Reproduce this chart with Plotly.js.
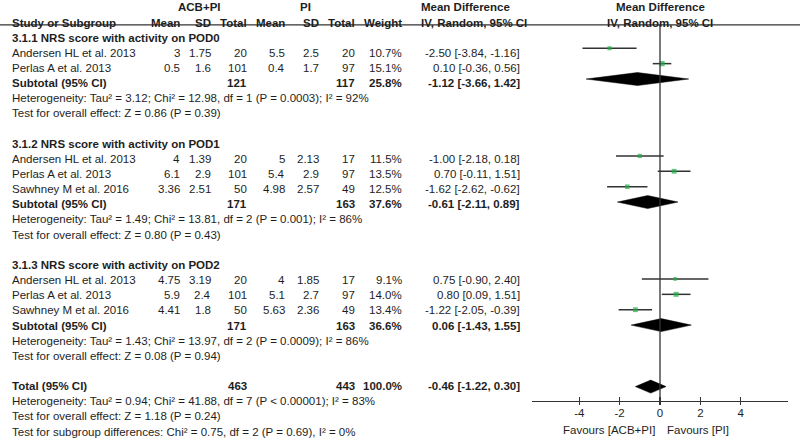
<!DOCTYPE html>
<html>
<head>
<meta charset="utf-8">
<script src="https://cdn.plot.ly/plotly-3.0.1.min.js"></script>
<style>html,body{margin:0;padding:0;background:#fff;}#chart{width:800px;height:441px;}</style>
</head>
<body>
<div id="chart"></div>
<script>
// ---------- DATA ----------
const groupTitles = ["3.1.1 NRS score with activity on POD0", "3.1.2 NRS score with activity on POD1", "3.1.3 NRS score with activity on POD2"];
const studyNames = [
  ["Andersen HL et al. 2013", "Perlas A et al. 2013"],
  ["Andersen HL et al. 2013", "Perlas A et al. 2013", "Sawhney M et al. 2016"],
  ["Andersen HL et al. 2013", "Perlas A et al. 2013", "Sawhney M et al. 2016"]
];
const acbMean = [[3, 0.5], [4, 6.1, 3.36], [4.75, 5.9, 4.41]];
const acbSD   = [[1.75, 1.6], [1.39, 2.9, 2.51], [3.19, 2.4, 1.8]];
const acbN    = [[20, 101], [20, 101, 50], [20, 101, 50]];
const piMean  = [[5.5, 0.4], [5, 5.4, 4.98], [4, 5.1, 5.63]];
const piSD    = [[2.5, 1.7], [2.13, 2.9, 2.57], [1.85, 2.7, 2.36]];
const piN     = [[20, 97], [17, 97, 49], [17, 97, 49]];
const weights = [[10.7, 15.1], [11.5, 13.5, 12.5], [9.1, 14.0, 13.4]];
const md      = [[-2.50, 0.10], [-1.00, 0.70, -1.62], [0.75, 0.80, -1.22]];
const mdLo    = [[-3.84, -0.36], [-2.18, -0.11, -2.62], [-0.90, 0.09, -2.05]];
const mdHi    = [[-1.16, 0.56], [0.18, 1.51, -0.62], [2.40, 1.51, -0.39]];

const subAcbN = [121, 171, 171];
const subPiN  = [117, 163, 163];
const subWeight = [25.8, 37.6, 36.6];
const subMd   = [-1.12, -0.61, 0.06];
const subLo   = [-3.66, -2.11, -1.43];
const subHi   = [1.42, 0.89, 1.55];
const subHet  = [
  "Heterogeneity: Tau² = 3.12; Chi² = 12.98, df = 1 (P = 0.0003); I² = 92%",
  "Heterogeneity: Tau² = 1.49; Chi² = 13.81, df = 2 (P = 0.001); I² = 86%",
  "Heterogeneity: Tau² = 1.43; Chi² = 13.97, df = 2 (P = 0.0009); I² = 86%"
];
const subTest = [
  "Test for overall effect: Z = 0.86 (P = 0.39)",
  "Test for overall effect: Z = 0.80 (P = 0.43)",
  "Test for overall effect: Z = 0.08 (P = 0.94)"
];
const totalAcbN = 463, totalPiN = 443, totalWeight = 100.0;
const totalMd = -0.46, totalLo = -1.22, totalHi = 0.30;
const totalNotes = [
  "Heterogeneity: Tau² = 0.94; Chi² = 41.88, df = 7 (P < 0.00001); I² = 83%",
  "Test for overall effect: Z = 1.18 (P = 0.24)",
  "Test for subgroup differences: Chi² = 0.75, df = 2 (P = 0.69), I² = 0%"
];
const tickVals = [-4, -2, 0, 2, 4];
const favLeft = "Favours [ACB+PI]", favRight = "Favours [PI]";

// ---------- LAYOUT HELPERS ----------
const FONT = "Liberation Sans, Arial, sans-serif";
const TXT = "#1e1e1e";
const W = 800, H = 441;
function tY(r) { return 22.5 + 15.15 * r; }
function pY(r) { return 17.5 + 15.38 * r; }
const annotations = [];
function ann(text, xpx, row, anchor, bold) {
  annotations.push({
    text: bold ? "<b>" + text + "</b>" : text,
    x: xpx / W, xref: "paper", y: tY(row), yref: "y",
    xanchor: anchor, yanchor: "middle", showarrow: false,
    font: {family: FONT, size: 11.5, color: TXT}
  });
}
const col = {acbMean: 182, acbSD: 213, acbN: 249, piMean: 287, piSD: 321, piN: 357, weight: 404, md: 522};
function ciText(m, l, h) { return m.toFixed(2) + " [" + l.toFixed(2) + ", " + h.toFixed(2) + "]"; }

// headers
ann("ACB+PI", 199, -1, "center", true);
ann("PI", 305, -1, "center", true);
ann("Mean Difference", 419, -1, "left", true);
ann("Mean Difference", 660, -1, "center", true);
ann("Study or Subgroup", 10, 0, "left", true);
ann("Mean", col.acbMean, 0, "right", true);
ann("SD", col.acbSD, 0, "right", true);
ann("Total", col.acbN, 0, "right", true);
ann("Mean", col.piMean, 0, "right", true);
ann("SD", col.piSD, 0, "right", true);
ann("Total", col.piN, 0, "right", true);
ann("Weight", col.weight, 0, "right", true);
ann("IV, Random, 95% CI", 419, 0, "left", true);
ann("IV, Random, 95% CI", 660, 0, "center", true);

// forest traces data
const ciX = [], ciY = [], ptX = [], ptY = [], ptS = [];
const diamonds = [];
function addDiamond(m, l, h, r) {
  const yc = pY(r), hh = 6.5;
  diamonds.push({x: [l, m, h, m, l], y: [yc, yc - hh, yc, yc + hh, yc]});
}

let row = 1;
for (let g = 0; g < groupTitles.length; g++) {
  ann(groupTitles[g], 10, row, "left", true);
  row++;
  for (let i = 0; i < studyNames[g].length; i++) {
    ann(studyNames[g][i], 10, row, "left", false);
    ann(String(acbMean[g][i]), col.acbMean, row, "right", false);
    ann(String(acbSD[g][i]), col.acbSD, row, "right", false);
    ann(String(acbN[g][i]), col.acbN, row, "right", false);
    ann(String(piMean[g][i]), col.piMean, row, "right", false);
    ann(String(piSD[g][i]), col.piSD, row, "right", false);
    ann(String(piN[g][i]), col.piN, row, "right", false);
    ann(weights[g][i].toFixed(1) + "%", col.weight, row, "right", false);
    ann(ciText(md[g][i], mdLo[g][i], mdHi[g][i]), col.md, row, "right", false);
    ciX.push(mdLo[g][i], mdHi[g][i], null);
    ciY.push(pY(row), pY(row), null);
    ptX.push(md[g][i]); ptY.push(pY(row)); ptS.push(1.2 + 0.27 * weights[g][i]);
    row++;
  }
  ann("Subtotal (95% CI)", 10, row, "left", true);
  ann(String(subAcbN[g]), col.acbN, row, "right", true);
  ann(String(subPiN[g]), col.piN, row, "right", true);
  ann(subWeight[g].toFixed(1) + "%", col.weight, row, "right", true);
  ann(ciText(subMd[g], subLo[g], subHi[g]), col.md, row, "right", true);
  addDiamond(subMd[g], subLo[g], subHi[g], row);
  row++;
  ann(subHet[g], 10, row, "left", false); row++;
  ann(subTest[g], 10, row, "left", false); row++;
  row++;
}
ann("Total (95% CI)", 10, row, "left", true);
ann(String(totalAcbN), col.acbN, row, "right", true);
ann(String(totalPiN), col.piN, row, "right", true);
ann(totalWeight.toFixed(1) + "%", col.weight, row, "right", true);
ann(ciText(totalMd, totalLo, totalHi), col.md, row, "right", true);
addDiamond(totalMd, totalLo, totalHi, row);
row++;
for (let k = 0; k < totalNotes.length; k++) { ann(totalNotes[k], 10, row, "left", false); row++; }

// favours labels
const axisY = 401;
annotations.push({text: favLeft, x: 657 / W, xref: "paper", y: 429.5, yref: "y", xanchor: "right", yanchor: "middle",
  showarrow: false, font: {family: FONT, size: 11.5, color: TXT}});
annotations.push({text: favRight, x: 665 / W, xref: "paper", y: 429.5, yref: "y", xanchor: "left", yanchor: "middle",
  showarrow: false, font: {family: FONT, size: 11.5, color: TXT}});

const traces = [];
traces.push({x: ciX, y: ciY, mode: "lines", line: {color: "#333", width: 1.5}, hoverinfo: "skip", showlegend: false});
diamonds.forEach(d => traces.push({x: d.x, y: d.y, mode: "lines", fill: "toself", fillcolor: "#000",
  line: {color: "#000", width: 0.5}, hoverinfo: "skip", showlegend: false}));
traces.push({x: ptX, y: ptY, mode: "markers", marker: {symbol: "square", color: "#1fae48", size: ptS, line: {width: 0}},
  hoverinfo: "skip", showlegend: false});

const layout = {
  width: W, height: H, margin: {l: 0, r: 0, t: 0, b: 0},
  paper_bgcolor: "#fff", plot_bgcolor: "rgba(0,0,0,0)",
  showlegend: false,
  xaxis: {domain: [532 / W, 788 / W], range: [-6.34, 6.34], anchor: "free", position: (H - axisY) / H,
    showgrid: false, zeroline: false, showline: true, linecolor: "#333", linewidth: 1.3,
    tickmode: "array", tickvals: tickVals, ticktext: tickVals.map(String),
    ticks: "outside", ticklen: 3, tickwidth: 1.3, tickcolor: "#333", ticklabelstandoff: -2,
    minor: {tickmode: "array", tickvals: tickVals, ticks: "inside", ticklen: 4, tickwidth: 1.3, tickcolor: "#333"},
    tickfont: {family: FONT, size: 11.5, color: TXT}, fixedrange: true},
  yaxis: {domain: [0, 1], range: [H, 0], visible: false, fixedrange: true},
  shapes: [
    {type: "line", xref: "paper", yref: "y", x0: 0, x1: 1, y0: 24.8, y1: 24.8, line: {color: "#333", width: 1.3}},
    {type: "line", xref: "x", yref: "y", x0: 0, x1: 0, y0: 24.8, y1: axisY, line: {color: "#333", width: 1.3}}
  ],
  annotations: annotations
};
Plotly.newPlot("chart", traces, layout, {displayModeBar: false, staticPlot: true});
</script>
</body>
</html>
